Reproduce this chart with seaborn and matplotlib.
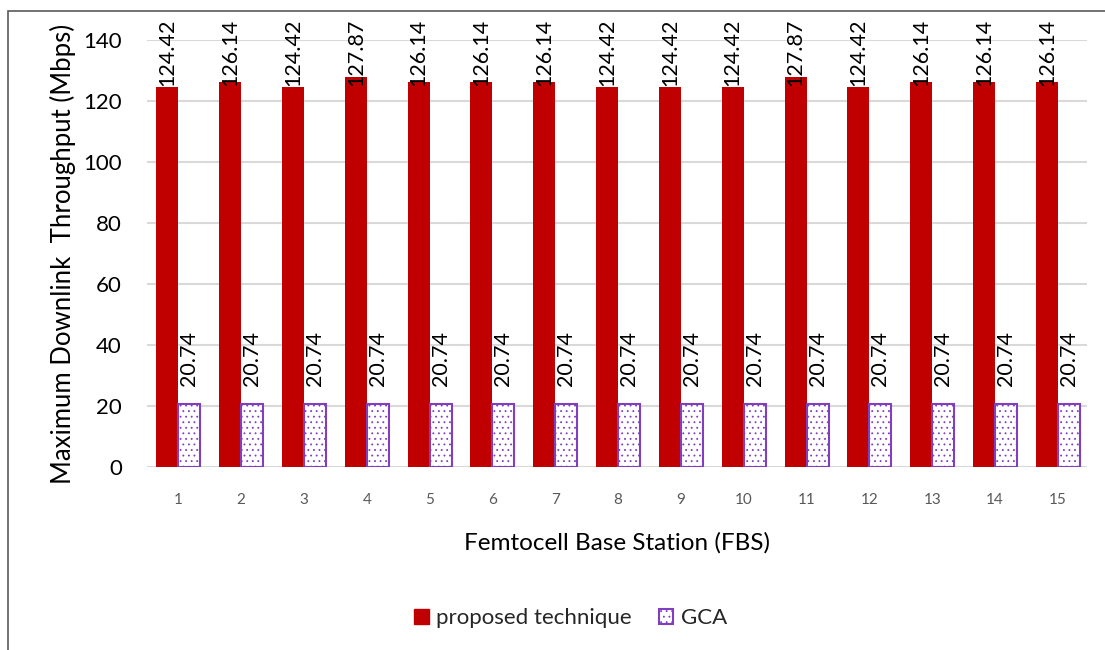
import matplotlib
matplotlib.use("Agg")
import matplotlib.pyplot as plt
import matplotlib.transforms as mtransforms
from matplotlib.patches import Patch, Rectangle
import seaborn as sns
import pandas as pd

# Data
stations = [str(i) for i in range(1, 16)]
proposed = [124.42, 126.14, 124.42, 127.87, 126.14, 126.14, 126.14, 124.42,
            124.42, 124.42, 127.87, 124.42, 126.14, 126.14, 126.14]
gca = [20.74] * 15
series_names = ["proposed technique", "GCA"]
y_ticks = [0, 20, 40, 60, 80, 100, 120, 140]

RED = "#C00000"
PURPLE = "#7F3FBF"

sns.set_theme(style="white")
plt.rcParams["font.family"] = ["Lato", "DejaVu Sans"]
plt.rcParams["hatch.linewidth"] = 0.6

df = pd.DataFrame({
    "FBS": stations * 2,
    "value": proposed + gca,
    "series": [series_names[0]] * len(stations) + [series_names[1]] * len(stations),
})

fig = plt.figure(figsize=(11.05, 6.5), dpi=100)
ax = fig.add_axes([0.133, 0.2815, 0.851, 0.657])

sns.barplot(data=df, x="FBS", y="value", hue="series", order=stations,
            hue_order=series_names, palette=[RED, "white"], width=0.7,
            dodge=True, gap=0, errorbar=None, saturation=1, ax=ax, legend=False)

red_bars, gca_bars = ax.containers[0], ax.containers[1]
for bar in red_bars:
    bar.set_edgecolor(RED)
    bar.set_linewidth(0)
for bar in gca_bars:
    bar.set_facecolor("white")
    bar.set_edgecolor(PURPLE)
    bar.set_hatch("...")
    bar.set_linewidth(1.5)

# Labels of the tall bars are pushed down so they stay inside the chart area
top_trans = mtransforms.blended_transform_factory(ax.transData, ax.transAxes)
for bar in red_bars:
    ax.text(bar.get_x() + bar.get_width() / 2, 1.049, f"{bar.get_height():.2f}",
            transform=top_trans, rotation=90, ha="center", va="top",
            fontsize=15.5, color="black", clip_on=False)
ax.bar_label(gca_bars, fmt="%.2f", rotation=90, padding=13, fontsize=15.5, color="black")

ax.set_ylim(0, 140)
ax.set_xlim(-0.5, 14.47)
ax.set_yticks(y_ticks)
ax.tick_params(axis="y", labelsize=16, colors="black", length=0, pad=18)
ax.tick_params(axis="x", labelsize=11, colors="#595959", length=0, pad=19)
ax.yaxis.grid(True, color="#D9D9D9", linewidth=1.5)
ax.set_axisbelow(True)
for s in ax.spines.values():
    s.set_visible(False)

ax.set_ylabel("Maximum Downlink  Throughput (Mbps)", fontsize=18.5, color="black", labelpad=5)
ax.set_xlabel("Femtocell Base Station (FBS)", fontsize=17.5, color="black", labelpad=18)

handles = [Patch(facecolor=RED, edgecolor=RED),
           Patch(facecolor="white", edgecolor=PURPLE, hatch="...", linewidth=1.5)]
fig.legend(handles, series_names, loc="center", bbox_to_anchor=(0.5165, 0.049),
           ncol=2, frameon=False, fontsize=16, handlelength=0.65, handleheight=0.65,
           handletextpad=0.35, columnspacing=1.2, labelcolor="#262626")

# Outer chart frame (left and top edges visible)
fig.patches.append(Rectangle((8 / 1105, -0.1), 1.2, 1 - 11 / 650 + 0.1,
                             transform=fig.transFigure, fill=False,
                             edgecolor="#595959", linewidth=1.2))

fig.savefig("out.png", dpi=100)
